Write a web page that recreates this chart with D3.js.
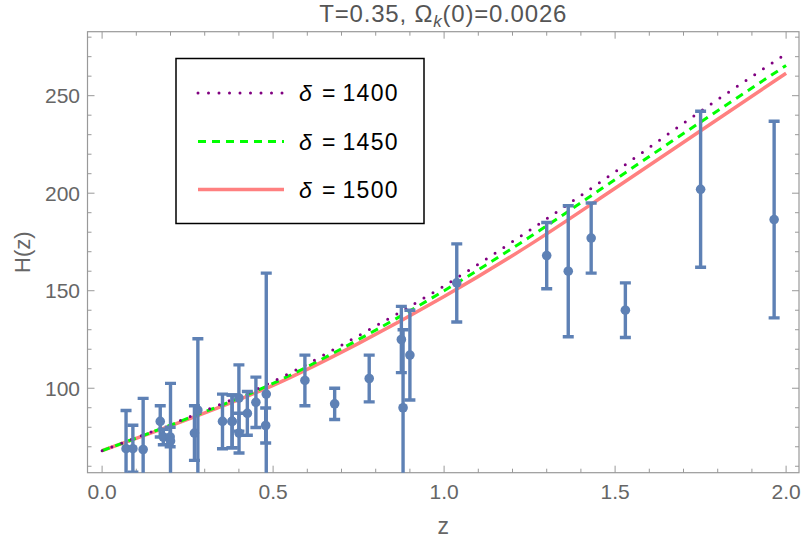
<!DOCTYPE html>
<html>
<head>
<meta charset="utf-8">
<script src="https://cdn.jsdelivr.net/npm/d3@7"></script>
<style>
  body { margin: 0; background: white; }
  svg { font-family: "Liberation Sans", Arial, sans-serif; }
</style>
</head>
<body>
<svg width="802" height="539"></svg>
<script>
// observed H(z) points
var zObs   = [0.07, 0.09, 0.12, 0.17, 0.179, 0.199, 0.20, 0.27, 0.28, 0.352, 0.38, 0.3802, 0.40, 0.4004, 0.4247, 0.4497, 0.4783, 0.48,
              0.593, 0.68, 0.781, 0.875, 0.88, 0.90, 1.037, 1.30, 1.363, 1.43, 1.53, 1.75, 1.965];
var hObs   = [69, 69, 68.6, 83, 75, 75, 72.9, 77, 88.8, 83, 83, 83, 95, 77, 87.1, 92.8, 80.9, 97,
              104, 92, 105, 125, 90, 117, 154, 168, 160, 177, 140, 202, 186.5];
var sigObs = [19.6, 12, 26.2, 8, 4, 5, 29.6, 14, 36.6, 14, 13.5, 13.5, 17, 10.2, 11.2, 12.9, 9, 62,
              13, 8, 12, 17, 40, 23, 20, 17, 33.6, 18, 14, 40, 50.4];

// model curves
var zCurve = [0, 0.25, 0.5, 0.75, 1.0, 1.25, 1.5, 1.75, 2.0];
var h1400  = [68, 85, 103.5, 127, 152.5, 181, 211, 242, 271.5];
var h1450  = [68, 84.5, 102.5, 125, 150, 177.5, 207, 236.5, 265.5];
var h1500  = [68, 84, 101.5, 123, 147, 173.5, 202.5, 232, 261.5];
var legendLabels = ["1400", "1450", "1500"];

var xMajor = [0, 0.5, 1.0, 1.5, 2.0];
var xMinor = d3.range(0, 2.05, 0.1);
var yMajor = [100, 150, 200, 250];
var yMinor = d3.range(60, 281, 10);

var svg = d3.select("svg");
var pL = 87.5, pR = 799, pT = 31.7, pB = 472.7;

var x = d3.scaleLinear().domain([-0.0427, 2.0377]).range([pL, pR]);
var y = d3.scaleLinear().domain([56.7, 282.8]).range([pB, pT]);

svg.append("defs").append("clipPath").attr("id", "plotclip")
  .append("rect").attr("x", pL).attr("y", pT).attr("width", pR - pL).attr("height", pB - pT);

var frameCol = "#999";
var labelCol = "#666";

// frame
svg.append("rect")
  .attr("x", pL).attr("y", pT)
  .attr("width", pR - pL).attr("height", pB - pT)
  .attr("fill", "none").attr("stroke", frameCol).attr("stroke-width", 1.2);

var ticks = svg.append("g").attr("stroke", frameCol).attr("stroke-width", 1);
xMinor.forEach(function (v) {
  var big = xMajor.some(function (m) { return Math.abs(m - v) < 1e-6; });
  var len = big ? 7 : 4;
  ticks.append("line").attr("x1", x(v)).attr("x2", x(v)).attr("y1", pB).attr("y2", pB - len);
  ticks.append("line").attr("x1", x(v)).attr("x2", x(v)).attr("y1", pT).attr("y2", pT + len);
});
yMinor.forEach(function (v) {
  var big = yMajor.indexOf(v) >= 0;
  var len = big ? 7 : 4;
  ticks.append("line").attr("y1", y(v)).attr("y2", y(v)).attr("x1", pL).attr("x2", pL + len);
  ticks.append("line").attr("y1", y(v)).attr("y2", y(v)).attr("x1", pR).attr("x2", pR - len);
});

svg.append("g").selectAll("text").data(xMajor).enter().append("text")
  .attr("x", function (d) { return x(d); })
  .attr("y", pB + 26)
  .attr("text-anchor", "middle")
  .attr("font-size", "21px")
  .attr("fill", labelCol)
  .text(function (d) { return d.toFixed(1); });

svg.append("g").selectAll("text").data(yMajor).enter().append("text")
  .attr("x", pL - 7.5)
  .attr("y", function (d) { return y(d); })
  .attr("dy", "0.36em")
  .attr("text-anchor", "end")
  .attr("font-size", "21px")
  .attr("fill", labelCol)
  .text(function (d) { return d; });

// axis labels and title
svg.append("text")
  .attr("x", (pL + pR) / 2).attr("y", 534)
  .attr("text-anchor", "middle").attr("font-size", "23px").attr("fill", labelCol)
  .text("z");

svg.append("text")
  .attr("transform", "translate(30," + ((pT + pB) / 2) + ") rotate(-90)")
  .attr("text-anchor", "middle").attr("font-size", "22px").attr("fill", labelCol)
  .text("H(z)");

var title = svg.append("text")
  .attr("x", (pL + pR) / 2).attr("y", 22)
  .attr("text-anchor", "middle").attr("font-size", "24px").attr("fill", "#555")
  .attr("letter-spacing", "0.8px");
title.append("tspan").text("T=0.35, \u03A9");
title.append("tspan").attr("font-size", "17px").attr("font-style", "italic").attr("dy", 5).text("k");
title.append("tspan").attr("dy", -5).text("(0)=0.0026");

// curves
var plot = svg.append("g").attr("clip-path", "url(#plotclip)");
var line = d3.line()
  .x(function (d) { return x(d[0]); })
  .y(function (d) { return y(d[1]); })
  .curve(d3.curveMonotoneX);

var curves = [
  { vals: h1500, col: "#ff8080", w: 3.5, dash: null, cap: "butt" },
  { vals: h1450, col: "#00ff00", w: 3, dash: "8 6", cap: "butt" },
  { vals: h1400, col: "#800080", w: 3, dash: "0 10.5", cap: "round" }
];
curves.forEach(function (c) {
  var path = plot.append("path")
    .datum(zCurve.map(function (z, i) { return [z, c.vals[i]]; }))
    .attr("d", line)
    .attr("fill", "none")
    .attr("stroke", c.col)
    .attr("stroke-width", c.w)
    .attr("stroke-linecap", c.cap);
  if (c.dash) path.attr("stroke-dasharray", c.dash);
});

// error bars
var ptCol = "#5e81b5";
var bars = plot.append("g").attr("stroke", ptCol).attr("stroke-width", 3.4);
zObs.forEach(function (z, i) {
  var lo = hObs[i] - sigObs[i], hi = hObs[i] + sigObs[i];
  bars.append("line").attr("x1", x(z)).attr("x2", x(z)).attr("y1", y(lo)).attr("y2", y(hi));
  bars.append("line").attr("x1", x(z) - 5.5).attr("x2", x(z) + 5.5).attr("y1", y(lo)).attr("y2", y(lo));
  bars.append("line").attr("x1", x(z) - 5.5).attr("x2", x(z) + 5.5).attr("y1", y(hi)).attr("y2", y(hi));
});
plot.append("g").selectAll("circle").data(zObs).enter().append("circle")
  .attr("cx", function (d) { return x(d); })
  .attr("cy", function (d, i) { return y(hObs[i]); })
  .attr("r", 4.8)
  .attr("fill", ptCol);

// legend
var lg = svg.append("g");
lg.append("rect")
  .attr("x", 176).attr("y", 58.5).attr("width", 248).attr("height", 165)
  .attr("fill", "white").attr("stroke", "black").attr("stroke-width", 1.5);
var legY = [93, 141.5, 189.5];
[curves[2], curves[1], curves[0]].forEach(function (c, i) {
  var l = lg.append("line")
    .attr("x1", 198).attr("x2", 284)
    .attr("y1", legY[i]).attr("y2", legY[i])
    .attr("stroke", c.col).attr("stroke-width", c.w)
    .attr("stroke-linecap", c.cap);
  if (c.dash) l.attr("stroke-dasharray", c.dash);
  var t = lg.append("text")
    .attr("y", legY[i]).attr("dy", "0.36em")
    .attr("font-size", "23px").attr("fill", "black");
  t.append("tspan").attr("x", 299).attr("font-style", "italic").text("\u03B4");
  t.append("tspan").attr("x", 322).text("=");
  t.append("tspan").attr("x", 342.5).attr("letter-spacing", "1.3px").text(legendLabels[i]);
});
</script>
</body>
</html>
